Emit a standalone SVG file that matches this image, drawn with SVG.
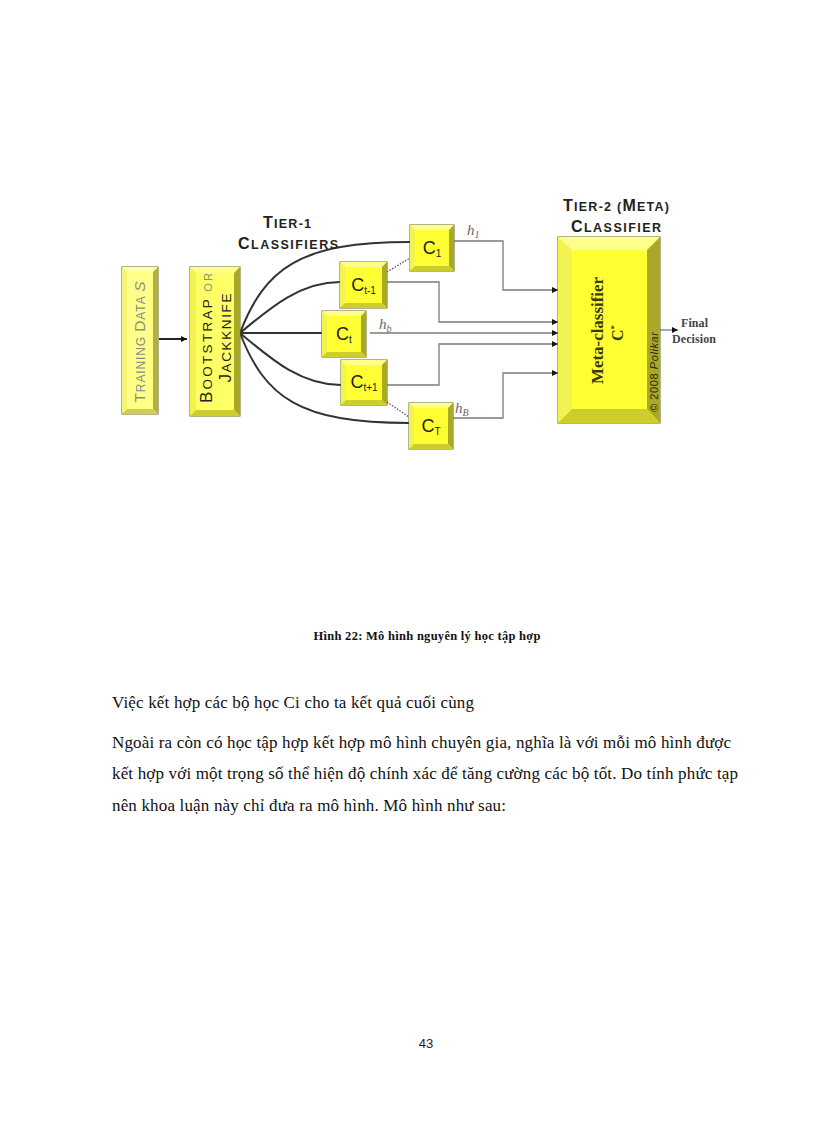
<svg xmlns="http://www.w3.org/2000/svg" width="816" height="1123" viewBox="0 0 816 1123">
<style>
.face{fill:#FFFF33;stroke:#6B6B1A;stroke-width:1}
.top{fill:#FFFF8C}
.left{fill:#F2F250}
.right{fill:#A9A929}
.bot{fill:#CDCD2E}
.fan{fill:none;stroke:#333;stroke-width:2}
.out{fill:none;stroke:#7a7a7a;stroke-width:1.3}
.dot{fill:none;stroke:#555;stroke-width:1.3;stroke-dasharray:1.5 1.5}
.cl{font-family:"Liberation Sans",Arial,sans-serif;fill:#222;text-anchor:middle}
.cap{font-family:"Liberation Sans",Arial,sans-serif;font-weight:bold;fill:#222;text-anchor:middle}
.h{font-family:"Liberation Serif","Times New Roman",serif;font-style:italic;fill:#666;font-size:15px}
.body{font-family:"Liberation Serif","Times New Roman",serif;font-size:17px;fill:#111}
</style>
<defs>
<marker id="ah" viewBox="0 0 6 6" refX="6" refY="3" markerWidth="6" markerHeight="6" markerUnits="userSpaceOnUse" orient="auto">
<path d="M0,0 L6,3 L0,6 Z" fill="#111"/>
</marker>
</defs>
<rect width="816" height="1123" fill="#fff"/>

<g id="connectors">
<line x1="159" y1="339" x2="187" y2="339" stroke="#222" stroke-width="2" marker-end="url(#ah)"/>
<path class="fan" d="M240,333 C265,268 300,242 410,242"/>
<path class="fan" d="M240,333 C270,308 300,282 340,282"/>
<path class="fan" d="M240,333 L322,333"/>
<path class="fan" d="M240,333 C270,358 300,385 341,385"/>
<path class="fan" d="M240,333 C265,398 300,423 409,423"/>
<path class="dot" d="M387,272 L410,258"/>
<path class="dot" d="M387,402 L409,417"/>
<path class="out" d="M454,241 H503 V290 H558" marker-end="url(#ah)"/>
<path class="out" d="M387,282 H439 V322 H558" marker-end="url(#ah)"/>
<path class="out" d="M370,333 H558" marker-end="url(#ah)"/>
<path class="out" d="M387,385 H439 V344 H558" marker-end="url(#ah)"/>
<path class="out" d="M453,418 H503 V373 H558" marker-end="url(#ah)"/>
<path class="out" d="M660,330 H678" marker-end="url(#ah)"/>
</g>

<g id="labels-tier">
<text class="cap" x="287" y="228" textLength="48"><tspan font-size="16">T</tspan><tspan font-size="12.5">IER-1</tspan></text>
<text class="cap" x="288" y="249" textLength="100"><tspan font-size="16">C</tspan><tspan font-size="12.5">LASSIFIERS</tspan></text>
<text class="cap" x="616" y="211" textLength="106"><tspan font-size="16">T</tspan><tspan font-size="12.5">IER-2 (</tspan><tspan font-size="16">M</tspan><tspan font-size="12.5">ETA)</tspan></text>
<text class="cap" x="616" y="232" textLength="90"><tspan font-size="16">C</tspan><tspan font-size="12.5">LASSIFIER</tspan></text>
</g>

<g id="training">
<rect x="122" y="267" width="36" height="147" fill="#FFFF88" stroke="#6B6B1A"/>
<polygon points="122,267 158,267 153,272 127,272" fill="#FFFFB0"/>
<polygon points="122,267 127,272 127,409 122,414" fill="#F5F57A"/>
<polygon points="158,267 158,414 153,409 153,272" fill="#B0B040"/>
<polygon points="122,414 127,409 153,409 158,414" fill="#D0D050"/>
<rect x="127" y="272" width="26" height="137" fill="#FFFF88"/>
<text transform="translate(145,342) rotate(-90)" font-family="Liberation Sans,Arial,sans-serif" fill="#8a8a8a" text-anchor="middle" textLength="121"><tspan font-size="15.5">T</tspan><tspan font-size="12">RAINING </tspan><tspan font-size="15.5">D</tspan><tspan font-size="12">ATA </tspan><tspan font-size="15.5" font-style="italic">S</tspan></text>
</g>

<g id="bootstrap">
<rect x="190" y="267" width="50" height="149" fill="#FFFF66" stroke="#6B6B1A"/>
<polygon points="190,267 240,267 234,273 196,273" class="top"/>
<polygon points="190,267 196,273 196,410 190,416" class="left"/>
<polygon points="240,267 240,416 234,410 234,273" class="right"/>
<polygon points="190,416 196,410 234,410 240,416" class="bot"/>
<rect x="196" y="273" width="38" height="137" fill="#FFFF66"/>
<text transform="translate(212,338) rotate(-90)" font-family="Liberation Sans,Arial,sans-serif" fill="#222" text-anchor="middle" textLength="130"><tspan font-size="17">B</tspan><tspan font-size="13.5">OOTSTRAP</tspan><tspan font-size="11" fill="#8a8a8a"> OR</tspan></text>
<text transform="translate(231,338) rotate(-90)" font-family="Liberation Sans,Arial,sans-serif" fill="#222" text-anchor="middle" textLength="89"><tspan font-size="17">J</tspan><tspan font-size="13.5">ACKKNIFE</tspan></text>
</g>

<g id="c1">
<rect class="face" x="410" y="225" width="44" height="46"/>
<polygon class="top" points="410,225 454,225 449,230 415,230"/>
<polygon class="left" points="410,225 415,230 415,266 410,271"/>
<polygon class="right" points="454,225 454,271 449,266 449,230"/>
<polygon class="bot" points="410,271 415,266 449,266 454,271"/>
<text class="cl" x="432" y="254" font-size="18">C<tspan font-size="10" dy="3">1</tspan></text>
</g>

<g id="ct-1">
<rect class="face" x="340" y="262" width="47" height="46"/>
<polygon class="top" points="340,262 387,262 382,267 345,267"/>
<polygon class="left" points="340,262 345,267 345,303 340,308"/>
<polygon class="right" points="387,262 387,308 382,303 382,267"/>
<polygon class="bot" points="340,308 345,303 382,303 387,308"/>
<text class="cl" x="363.5" y="291" font-size="18">C<tspan font-size="10" dy="3">t-1</tspan></text>
</g>

<g id="ct">
<rect class="face" x="322" y="311" width="44" height="46"/>
<polygon class="top" points="322,311 366,311 361,316 327,316"/>
<polygon class="left" points="322,311 327,316 327,352 322,357"/>
<polygon class="right" points="366,311 366,357 361,352 361,316"/>
<polygon class="bot" points="322,357 327,352 361,352 366,357"/>
<text class="cl" x="344" y="340" font-size="18">C<tspan font-size="10" dy="3">t</tspan></text>
</g>

<g id="ct+1">
<rect class="face" x="341" y="360" width="46" height="45"/>
<polygon class="top" points="341,360 387,360 382,365 346,365"/>
<polygon class="left" points="341,360 346,365 346,400 341,405"/>
<polygon class="right" points="387,360 387,405 382,400 382,365"/>
<polygon class="bot" points="341,405 346,400 382,400 387,405"/>
<text class="cl" x="364" y="388" font-size="18">C<tspan font-size="10" dy="3">t+1</tspan></text>
</g>

<g id="cT">
<rect class="face" x="409" y="403" width="44" height="46"/>
<polygon class="top" points="409,403 453,403 448,408 414,408"/>
<polygon class="left" points="409,403 414,408 414,444 409,449"/>
<polygon class="right" points="453,403 453,449 448,444 448,408"/>
<polygon class="bot" points="409,449 414,444 448,444 453,449"/>
<text class="cl" x="431" y="432" font-size="18">C<tspan font-size="10" dy="3">T</tspan></text>
</g>

<g id="h-labels">
<text class="h" x="467" y="235">h<tspan font-size="10" dy="3">1</tspan></text>
<text class="h" x="379" y="329">h<tspan font-size="10" dy="3">b</tspan></text>
<text class="h" x="455" y="413">h<tspan font-size="10" dy="3">B</tspan></text>
</g>

<g id="meta">
<rect class="face" x="558" y="237" width="102" height="186"/>
<polygon class="top" points="558,237 660,237 647,250 572,250"/>
<polygon class="left" points="558,237 572,250 572,409 558,423"/>
<polygon class="right" points="660,237 660,423 647,409 647,250"/>
<polygon class="bot" points="558,423 572,409 647,409 660,423"/>
<text transform="translate(603,330.5) rotate(-90)" font-family="Liberation Serif,Times New Roman,serif" font-weight="bold" font-size="17" fill="#3a3a0a" text-anchor="middle" textLength="107">Meta-classifier</text>
<text transform="translate(623,333) rotate(-90)" font-family="Liberation Serif,Times New Roman,serif" font-weight="bold" font-size="16" fill="#3a3a0a" text-anchor="middle">C<tspan font-size="9" dy="-6">*</tspan></text>
<text transform="translate(657.5,372) rotate(-90)" font-family="Liberation Sans,Arial,sans-serif" font-size="11" fill="#2a2a0a" text-anchor="middle" textLength="80">© 2008  <tspan font-style="italic">Polikar</tspan></text>
</g>

<g id="final">
<text x="681" y="327" font-family="Liberation Serif,Times New Roman,serif" font-weight="bold" font-size="12" fill="#444" textLength="27">Final</text>
<text x="672" y="343" font-family="Liberation Serif,Times New Roman,serif" font-weight="bold" font-size="12" fill="#444" textLength="44">Decision</text>
</g>

<g id="page-text">
<text x="427" y="640" font-family="Liberation Serif,Times New Roman,serif" font-weight="bold" font-size="12.5" fill="#111" text-anchor="middle" textLength="227">Hình 22: Mô hình nguyên lý học tập hợp</text>
<text class="body" x="112" y="708" textLength="362">Việc kết hợp các bộ học Ci cho ta kết quả cuối cùng</text>
<text class="body" x="112" y="748" textLength="619">Ngoài ra còn có học tập hợp kết hợp mô hình chuyên gia, nghĩa là với mỗi mô hình được</text>
<text class="body" x="112" y="779" textLength="626">kết hợp với một trọng số thể hiện độ chính xác để tăng cường các bộ tốt. Do tính phức tạp</text>
<text class="body" x="112" y="811" textLength="394">nên khoa luận này chỉ đưa ra mô hình. Mô hình như sau:</text>
<text x="426" y="1048" font-family="Liberation Sans,Arial,sans-serif" font-size="13" fill="#222" text-anchor="middle">43</text>
</g>
</svg>
